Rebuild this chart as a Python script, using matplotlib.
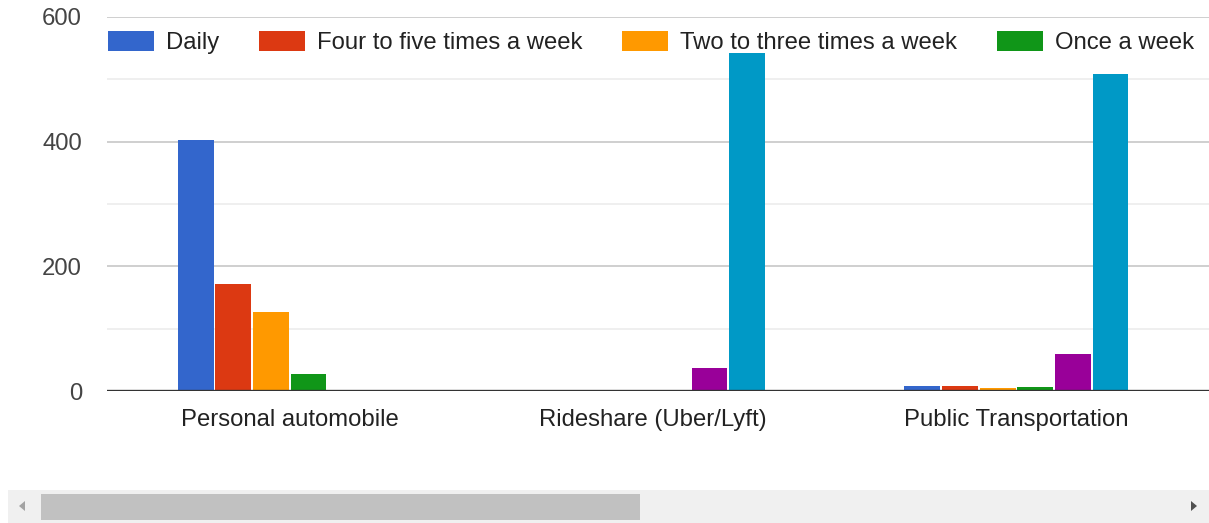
import numpy as np
import matplotlib
matplotlib.use("Agg")
import matplotlib.pyplot as plt
from matplotlib.patches import Rectangle, Polygon

plt.rcParams['font.family'] = ['Liberation Sans', 'DejaVu Sans']

categories = ["Personal automobile", "Rideshare (Uber/Lyft)", "Public Transportation"]
series_names = ["Daily", "Four to five times a week", "Two to three times a week",
                "Once a week", "Less than once a week", "Never"]
daily = [403, 0, 8]
four_five = [172, 0, 8]
two_three = [127, 0, 5]
once_week = [27, 0, 6]
less_once = [0, 37, 59]
never = [0, 542, 509]
series_values = [daily, four_five, two_three, once_week, less_once, never]
colors = ["#3366cc", "#dc3912", "#ff9900", "#109618", "#990099", "#0099c6"]
legend_shown = 4  # the rest is cut off in the scroll view

W, H = 1209, 523
fig = plt.figure(figsize=(W / 100, H / 100), dpi=100)
ax = fig.add_axes([107 / W, 1 - 391 / H, 1 - 107 / W, (391 - 17) / H])

x = np.arange(len(categories))
step = 37.6 / 363
width = 35.8 / 363
n = len(series_values)
bars = []
for i, (vals, c) in enumerate(zip(series_values, colors)):
    offs = (i - (n - 1) / 2) * step
    b = ax.bar(x + offs, vals, width, color=c, label=series_names[i], zorder=3)
    bars.append(b)

ax.set_xlim(-0.503, 2.53)
ax.set_ylim(0, 600)
ax.set_yticks([0, 200, 400, 600])
ax.set_yticks([100, 300, 500], minor=True)
ax.grid(axis='y', which='major', color='#cccccc', linewidth=1.3, zorder=0)
ax.grid(axis='y', which='minor', color='#ebebeb', linewidth=1.1, zorder=0)
ax.axhline(0, color='#333333', linewidth=2.4, zorder=4)
for s in ax.spines.values():
    s.set_visible(False)
ax.set_xticks(x)
ax.set_xticklabels(categories)
ax.tick_params(axis='both', which='both', length=0, labelsize=17.2, labelcolor='#222222')
ax.tick_params(axis='x', pad=13)
ax.tick_params(axis='y', pad=18, labelcolor='#444444')

leg = ax.legend(handles=bars[:legend_shown], ncol=legend_shown, loc='upper left',
                bbox_to_anchor=(108 / W, 1 - 31 / H), bbox_transform=fig.transFigure,
                frameon=False, fontsize=17.2, handlelength=1.93, handleheight=0.92,
                handletextpad=0.5, columnspacing=1.66, borderpad=0, borderaxespad=0)
for t in leg.get_texts():
    t.set_color('#222222')

# scrollbar
fig.patches.append(Rectangle((8 / W, 0), 1 - 8 / W, 33 / H, transform=fig.transFigure,
                             facecolor='#f0f0f0', edgecolor='none'))
fig.patches.append(Rectangle((41 / W, 3 / H), 599 / W, 26 / H, transform=fig.transFigure,
                             facecolor='#c1c1c1', edgecolor='none'))
fig.patches.append(Polygon([(19 / W, 1 - 506 / H), (25 / W, 1 - 501 / H), (25 / W, 1 - 511 / H)],
                           closed=True, transform=fig.transFigure, facecolor='#a3a3a3', edgecolor='none'))
fig.patches.append(Polygon([(1197 / W, 1 - 506 / H), (1191 / W, 1 - 501 / H), (1191 / W, 1 - 511 / H)],
                           closed=True, transform=fig.transFigure, facecolor='#505050', edgecolor='none'))

fig.savefig("out.png", dpi=100)
